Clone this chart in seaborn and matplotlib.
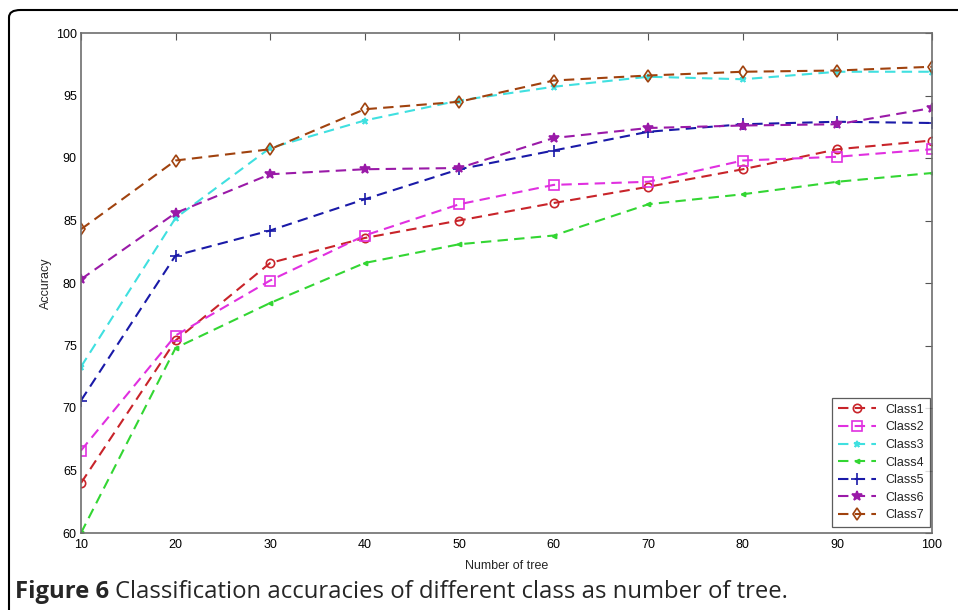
import matplotlib
matplotlib.use("Agg")
import matplotlib.pyplot as plt
from matplotlib.patches import FancyBboxPatch
import seaborn as sns
import pandas as pd

trees = [10, 20, 30, 40, 50, 60, 70, 80, 90, 100]
class1 = [64.0, 75.4, 81.6, 83.6, 85.0, 86.4, 87.7, 89.1, 90.7, 91.4]
class2 = [66.6, 75.8, 80.2, 83.8, 86.3, 87.85, 88.1, 89.8, 90.1, 90.7]
class3 = [73.3, 85.2, 90.8, 93.0, 94.6, 95.7, 96.5, 96.3, 96.9, 96.9]
class4 = [60.0, 74.8, 78.4, 81.6, 83.1, 83.8, 86.3, 87.1, 88.1, 88.8]
class5 = [70.6, 82.2, 84.2, 86.7, 89.1, 90.6, 92.1, 92.7, 92.9, 92.8]
class6 = [80.3, 85.6, 88.7, 89.1, 89.2, 91.6, 92.4, 92.6, 92.7, 94.0]
class7 = [84.3, 89.8, 90.7, 93.9, 94.5, 96.2, 96.6, 96.9, 97.0, 97.3]
labels = ["Class1", "Class2", "Class3", "Class4", "Class5", "Class6", "Class7"]
series = [class1, class2, class3, class4, class5, class6, class7]
xticks = [10, 20, 30, 40, 50, 60, 70, 80, 90, 100]
yticks = [60, 65, 70, 75, 80, 85, 90, 95, 100]

colors = ["#c8242a", "#e030e0", "#40e0e0", "#33d633", "#1a1aa8", "#9a1aa8", "#a0420e"]
markers = ["o", "s", "*", "<", "+", "*", "d"]
msizes = [6, 7, 5, 3, 8, 7, 6]
filled = [False, False, True, True, True, True, False]

sns.set_style("white")
plt.rcParams["font.family"] = ["Liberation Sans Narrow", "Liberation Sans", "DejaVu Sans"]

fig = plt.figure(figsize=(9.58, 6.10), dpi=100)
ax = fig.add_axes([81 / 958, 1 - 533 / 610, (932 - 81) / 958, (533 - 33) / 610])

rows = []
for lab, vals in zip(labels, series):
    for t, v in zip(trees, vals):
        rows.append({"trees": t, "acc": v, "cls": lab})
df = pd.DataFrame(rows)

for lab, c, m, ms, f in zip(labels, colors, markers, msizes, filled):
    sub = df[df["cls"] == lab]
    sns.lineplot(data=sub, x="trees", y="acc", ax=ax, color=c, marker=m,
                 markersize=ms, markerfacecolor=(c if f else "none"),
                 markeredgecolor=c, markeredgewidth=1.2, linewidth=1.5,
                 dashes=False, linestyle=(0, (5, 3)), label=lab)

ax.set_xlim(10, 100)
ax.set_ylim(60, 100)
ax.set_xticks(xticks)
ax.set_yticks(yticks)
ax.set_xlabel("Number of tree", fontsize=9, labelpad=7)
ax.set_ylabel("Accuracy", fontsize=9, labelpad=3)
ax.tick_params(direction="in", length=5, width=0.8, color="#555555",
               top=True, right=True, labelsize=9, labelcolor="black")
ax.tick_params(axis="x", pad=4)
ax.tick_params(axis="y", pad=3)
for s in ax.spines.values():
    s.set_color("#6e6e6e")
    s.set_linewidth(1.2)
    s.set_visible(True)

leg = ax.legend(loc="lower right", fontsize=9, frameon=True, fancybox=False,
                edgecolor="#333333", handlelength=3.0, borderpad=0.45,
                labelspacing=0.45, borderaxespad=0,
                bbox_to_anchor=(0.9975, 0.012))
leg.get_frame().set_linewidth(0.9)

# outer frame with rounded top-left corner
frame = FancyBboxPatch((9 / 958, -0.2), 1.2, 0.2 + (1 - 10 / 610),
                       boxstyle="round,pad=0,rounding_size=0.012",
                       transform=fig.transFigure, fill=False,
                       edgecolor="black", linewidth=1.5, clip_on=False)
fig.patches.append(frame)

cap_y = 1 - 592 / 610
t1 = fig.text(15 / 958, cap_y, "Figure 6", fontsize=17.2, fontweight="bold",
              family=["Open Sans", "DejaVu Sans"], va="center", ha="left")
fig.canvas.draw()
bb = t1.get_window_extent()
fig.text((bb.x1 + 6) / 958, cap_y,
         "Classification accuracies of different class as number of tree.",
         fontsize=17.2, family=["Open Sans", "DejaVu Sans"], va="center", ha="left")

fig.savefig("out.png", dpi=100)
